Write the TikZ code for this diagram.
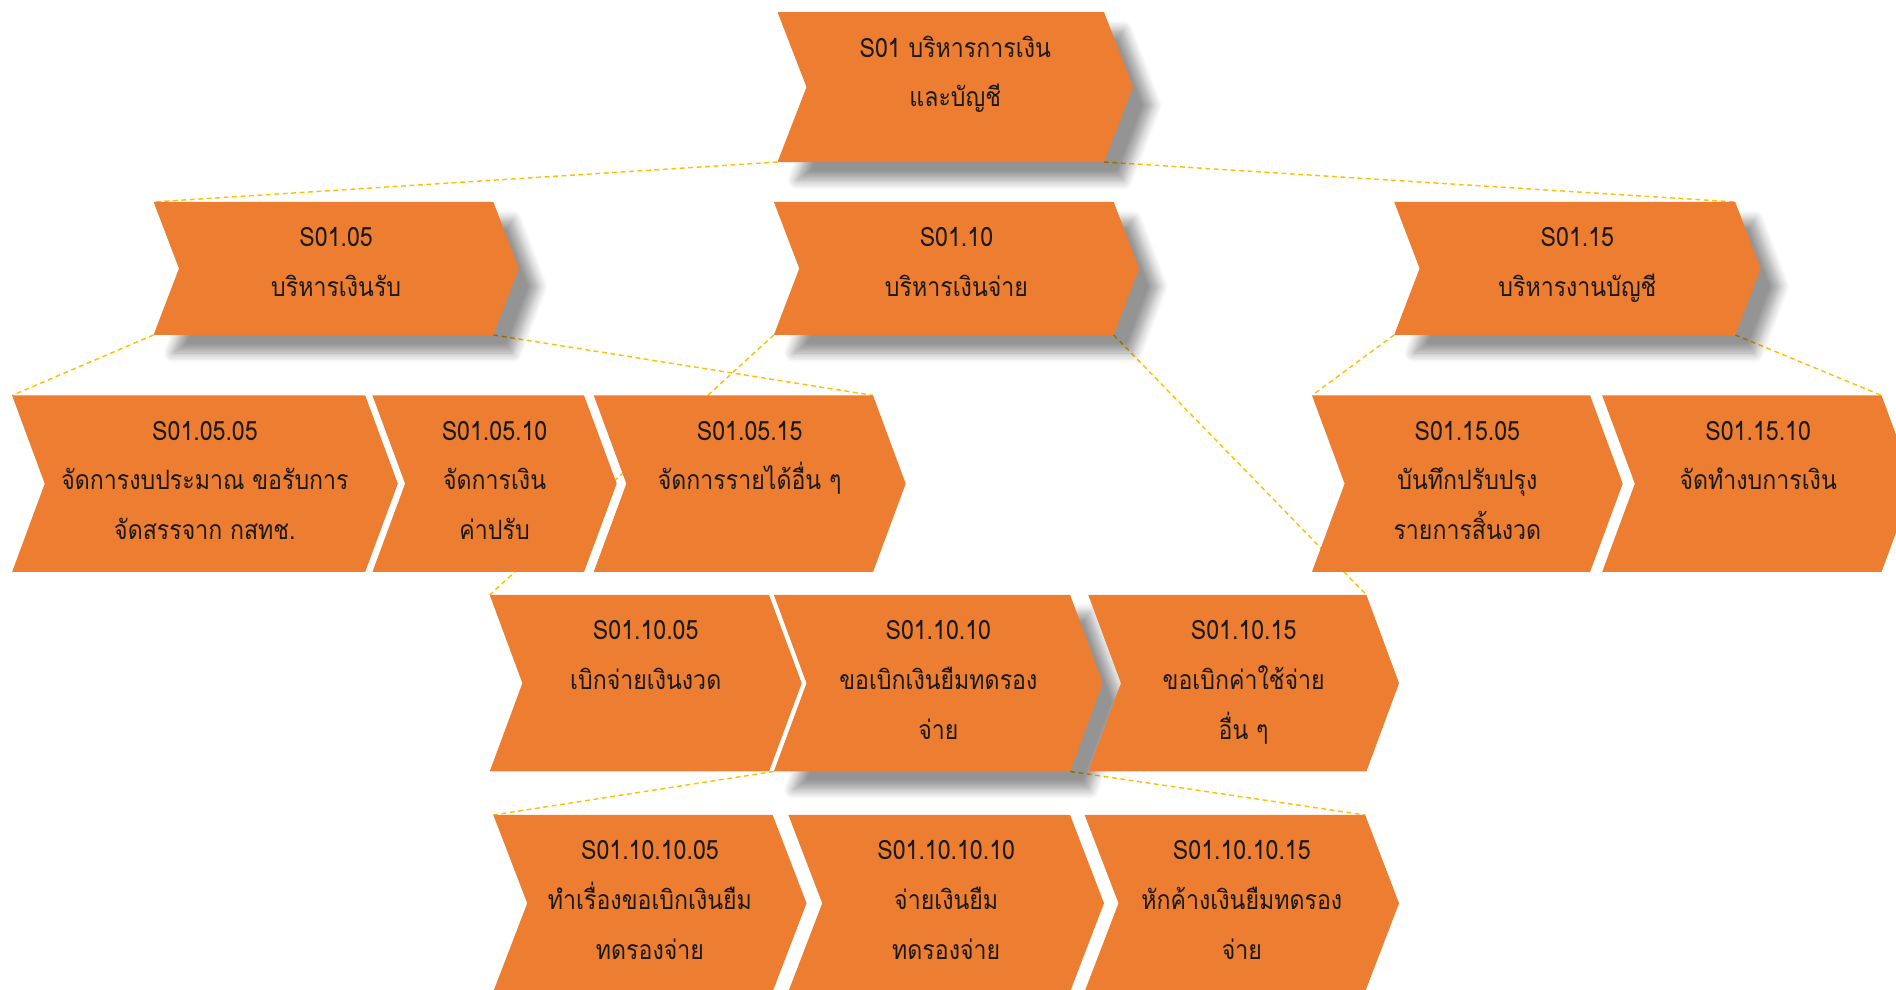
\documentclass[tikz,border=0pt]{standalone}
\usepackage{fontspec}
\newfontfamily\thaifont[Script=Thai,FakeStretch=0.87]{Loma}
\usetikzlibrary{backgrounds,shadows.blur}

\definecolor{chevorange}{HTML}{ED7D31}
\definecolor{linkgold}{HTML}{FFC000}
\definecolor{inkblack}{HTML}{1A1A1A}

\tikzset{
  chevfill/.style={fill=chevorange},
  raised/.style={blur shadow={shadow xshift=16pt, shadow yshift=-15pt,
      shadow blur radius=8pt, shadow blur steps=8, shadow opacity=42}},
  chevtext/.style={anchor=north, inner sep=0pt, align=center, text=inkblack,
      font=\thaifont\fontsize{22}{41}\selectfont},
  link/.style={draw=linkgold, line width=1.2pt, dash pattern=on 4pt off 3pt},
}

% \chev{name}{left}{top}{body width}{height}{point depth}{extra style}{text}
\newcommand\chev[8]{%
  \path[chevfill,#7] (#2,#3) -- ({#2+#4},#3) -- ({#2+#4+#6},{#3+#5/2})
    -- ({#2+#4},{#3+#5}) -- (#2,{#3+#5}) -- ({#2+#6},{#3+#5/2}) -- cycle;
  \coordinate (#1-tl) at (#2,#3);
  \coordinate (#1-tr) at ({#2+#4},#3);
  \coordinate (#1-bl) at (#2,{#3+#5});
  \coordinate (#1-br) at ({#2+#4},{#3+#5});
  \node[chevtext] (#1) at ({#2+(#4+#6)/2},{#3+7}) {\rule{0pt}{30pt}#8};
}

\begin{document}
\begin{tikzpicture}[x=1pt,y=-1pt]
\useasboundingbox (0,0) rectangle (1568,818);
\clip (0,0) rectangle (1568,818);

% level 0
\chev{s01}{643}{10}{270}{124}{24}{raised}{S01 บริหารการเงิน\\และบัญชี}

% level 1
\chev{s0105}{127}{167}{281}{110}{21}{raised}{S01.05\\บริหารเงินรับ}
\chev{s0110}{640}{167}{281}{110}{21}{raised}{S01.10\\บริหารเงินจ่าย}
\chev{s0115}{1153}{167}{282}{110}{21}{raised}{S01.15\\บริหารงานบัญชี}

% level 2
\chev{s010505}{10}{327}{292}{146}{27}{}{S01.05.05\\จัดการงบประมาณ ขอรับการ\\จัดสรรจาก กสทช.}
\chev{s010510}{308}{327}{175}{146}{27}{}{S01.05.10\\จัดการเงิน\\ค่าปรับ}
\chev{s010515}{491}{327}{231}{146}{27}{}{S01.05.15\\จัดการรายได้อื่น ๆ}
\chev{s011505}{1085}{327}{230}{146}{27}{}{S01.15.05\\บันทึกปรับปรุง\\รายการสิ้นงวด}
\chev{s011510}{1325}{327}{231}{146}{27}{}{S01.15.10\\จัดทำงบการเงิน}

% level 3
\chev{s011005}{405}{492}{231}{146}{27}{}{S01.10.05\\เบิกจ่ายเงินงวด}
\chev{s011010}{640}{492}{245}{146}{27}{raised}{S01.10.10\\ขอเบิกเงินยืมทดรอง\\จ่าย}
\chev{s011015}{900}{492}{230}{146}{27}{}{S01.10.15\\ขอเบิกค่าใช้จ่าย\\อื่น ๆ}

% level 4
\chev{s01101005}{408}{674}{231}{146}{28}{}{S01.10.10.05\\ทำเรื่องขอเบิกเงินยืม\\ทดรองจ่าย}
\chev{s01101010}{652}{674}{233}{146}{28}{}{S01.10.10.10\\จ่ายเงินยืม\\ทดรองจ่าย}
\chev{s01101015}{897}{674}{232}{146}{28}{}{S01.10.10.15\\หักค้างเงินยืมทดรอง\\จ่าย}

% dashed hierarchy links, kept behind the chevrons
\begin{pgfonlayer}{background}
  \draw[link] (s01-bl) -- (s0105-tl);
  \draw[link] (s01-br) -- (s0115-tr);
  \draw[link] (s0105-bl) -- (s010505-tl);
  \draw[link] (s0105-br) -- (s010515-tr);
  \draw[link] (s0110-bl) -- (s011005-tl);
  \draw[link] (s0110-br) -- (s011015-tr);
  \draw[link] (s0115-bl) -- (s011505-tl);
  \draw[link] (s0115-br) -- (s011510-tr);
  \draw[link] (s011010-bl) -- (s01101005-tl);
  \draw[link] (s011010-br) -- (s01101015-tr);
\end{pgfonlayer}
\end{tikzpicture}
\end{document}
